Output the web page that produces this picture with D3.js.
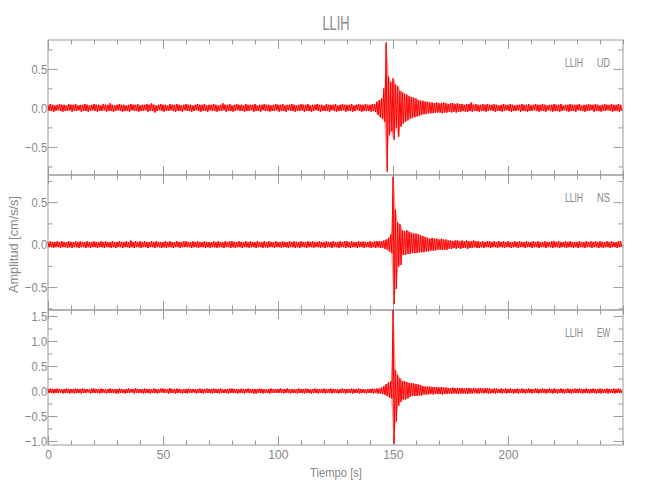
<!DOCTYPE html>
<html><head><meta charset="utf-8">
<script src="https://cdn.jsdelivr.net/npm/d3@7/dist/d3.min.js"></script>
<style>body{margin:0;background:#fff}svg{display:block}</style>
</head><body><svg id="c" width="650" height="500"></svg>
<script>
// ---------------- data ----------------
const station = "LLIH";
const components = ["UD", "NS", "EW"];
const binSeconds = 1;             // one envelope bin per second, t = 0..249 s
const timeDomain = [0, 250];
const xTickValues = [0, 50, 100, 150, 200];
// per-second envelope of each trace, in hundredths of cm/s/s (max then min in each bin)
const udHi = [
4,5,4,3,4,5,4,4,3,5, 4,4,5,3,4,4,5,4,3,4, 5,4,4,3,5,4,4,6,4,3, 4,5,4,4,3,4,5,4,4,5,
3,4,4,5,4,6,4,3,4,5, 4,4,3,5,4,4,5,4,3,4, 5,4,4,3,4,5,4,4,5,3, 4,4,5,4,3,4,6,4,4,5,
3,4,5,4,4,3,5,4,4,4, 5,3,4,4,5,4,4,3,4,5, 4,4,5,3,4,4,5,4,3,4, 5,4,4,5,3,4,4,5,4,4,
3,5,4,4,4,5,3,4,5,4, 4,4,5,3,4,5,4,4,5,4, 4,5,5,8,10,12,25,84,40,33, 38,30,28,22,20,18,17,15,14,13,
12,10,9,9,8,8,7,7,6,7, 6,6,7,6,5,6,6,5,6,5, 5,4,5,5,7,4,5,4,4,5, 4,5,4,4,5,4,3,4,5,4,
4,5,4,3,4,4,5,4,4,5, 3,4,5,4,4,5,4,3,4,4, 5,4,4,5,3,4,4,5,4,4, 4,5,3,4,4,5,4,4,5,4,
3,4,5,4,4,5,4,4,5,4];
const udLo = [
-4,-4,-5,-4,-3,-4,-5,-4,-4,-3, -5,-4,-4,-3,-5,-4,-4,-5,-4,-3, -4,-5,-4,-4,-3,-5,-4,-4,-5,-4, -3,-4,-5,-4,-4,-5,-3,-4,-4,-5,
-4,-4,-3,-5,-4,-4,-6,-4,-3,-4, -5,-4,-4,-3,-4,-5,-4,-4,-5,-3, -4,-4,-5,-4,-3,-4,-5,-4,-4,-5, -3,-4,-4,-5,-4,-4,-3,-5,-4,-4,
-5,-4,-3,-4,-4,-5,-4,-4,-3,-5, -4,-4,-5,-3,-4,-4,-5,-4,-4,-3, -5,-4,-4,-5,-3,-4,-4,-5,-4,-4, -3,-5,-4,-4,-5,-4,-3,-4,-5,-4,
-4,-4,-5,-3,-4,-5,-4,-4,-3,-5, -4,-4,-5,-4,-3,-4,-5,-4,-4,-4, -5,-4,-5,-9,-12,-14,-18,-82,-35,-30, -41,-25,-37,-24,-20,-18,-16,-14,-13,-12,
-11,-10,-9,-8,-8,-7,-7,-7,-6,-6, -6,-7,-6,-6,-5,-6,-5,-6,-5,-5, -4,-5,-5,-4,-5,-4,-4,-5,-4,-4, -5,-4,-3,-4,-5,-4,-4,-5,-4,-3,
-4,-5,-4,-4,-3,-5,-4,-4,-5,-4, -4,-3,-4,-5,-4,-4,-5,-3,-4,-5, -4,-4,-5,-4,-3,-4,-5,-4,-4,-5, -3,-4,-4,-5,-4,-4,-3,-5,-4,-4,
-5,-4,-4,-3,-4,-5,-4,-4,-5,-4];
const nsHi = [
3,4,3,3,4,3,4,3,3,4, 3,3,4,3,4,3,3,4,3,3, 4,3,3,4,3,4,3,3,4,3, 3,4,3,3,4,3,5,3,4,3,
4,3,4,3,3,4,3,4,3,3, 3,4,3,4,3,3,4,3,3,4, 4,3,3,4,3,4,3,3,4,3, 3,3,4,3,4,3,3,4,3,4,
4,3,3,4,3,3,4,3,4,3, 3,4,3,3,4,3,4,3,3,4, 3,3,4,3,3,4,3,4,3,3, 4,3,3,4,3,4,3,3,4,3,
3,4,3,3,4,3,3,4,3,4, 4,3,4,3,3,4,3,4,3,3, 4,3,4,4,4,4,5,6,8,12, 80,41,26,24,17,16,17,15,14,13,
13,12,11,10,9,8,7,8,7,7, 6,7,6,6,5,5,4,5,5,4, 5,4,5,4,4,5,4,4,3,4, 3,4,4,3,4,3,4,3,4,3,
4,3,3,4,3,4,3,3,4,3, 3,4,3,4,3,3,4,3,3,4, 4,3,4,3,3,4,3,4,3,3, 3,4,3,3,4,3,4,3,4,3,
4,3,3,4,3,4,3,3,4,4];
const nsLo = [
-3,-3,-4,-3,-3,-4,-3,-3,-4,-3, -4,-3,-3,-4,-3,-3,-4,-3,-4,-3, -3,-4,-3,-3,-4,-3,-3,-4,-3,-4, -3,-3,-4,-3,-3,-4,-3,-4,-3,-3,
-4,-3,-3,-4,-3,-3,-4,-3,-3,-4, -3,-4,-3,-3,-4,-3,-3,-4,-3,-3, -3,-3,-4,-3,-3,-4,-3,-3,-4,-3, -4,-3,-3,-4,-3,-3,-4,-3,-3,-4,
-3,-4,-3,-3,-4,-3,-3,-4,-3,-3, -4,-3,-3,-4,-3,-4,-3,-3,-4,-3, -3,-4,-3,-3,-4,-3,-3,-4,-3,-4, -3,-3,-4,-3,-3,-4,-3,-3,-4,-3,
-4,-3,-3,-4,-3,-3,-4,-3,-3,-4, -3,-4,-3,-3,-4,-3,-3,-4,-3,-3, -4,-3,-4,-3,-4,-4,-5,-6,-8,-10, -70,-52,-26,-24,-12,-12,-11,-11,-10,-10,
-10,-9,-9,-9,-8,-8,-7,-7,-7,-6, -6,-6,-6,-6,-5,-5,-4,-5,-4,-5, -4,-4,-5,-4,-4,-3,-4,-4,-3,-4, -3,-3,-4,-3,-3,-4,-3,-3,-4,-3,
-3,-4,-3,-3,-4,-3,-3,-4,-3,-3, -4,-3,-3,-4,-3,-3,-4,-3,-3,-4, -3,-3,-4,-3,-3,-4,-3,-3,-4,-3, -4,-3,-3,-4,-3,-3,-4,-3,-3,-4,
-3,-4,-3,-3,-4,-3,-3,-4,-3,-3];
const ewHi = [
4,5,4,4,5,4,3,4,5,4, 4,4,5,4,4,5,4,4,3,5, 5,4,4,5,4,3,4,5,4,4, 4,5,4,3,4,5,4,4,6,4,
4,4,5,4,4,3,5,4,4,5, 5,4,4,6,4,4,5,4,3,4, 4,5,4,4,3,4,5,4,4,5, 4,4,5,4,4,5,3,4,4,5,
5,4,4,3,5,4,4,5,4,4, 4,4,5,4,4,3,4,5,4,4, 4,5,4,4,5,4,4,3,4,5, 4,4,5,4,3,4,5,4,4,4,
5,4,4,5,4,4,3,4,5,4, 4,4,5,4,4,5,4,4,3,4, 4,5,4,5,5,7,10,14,17,20, 162,42,32,25,20,20,18,16,16,15,
14,13,12,10,9,9,9,8,8,8, 7,8,7,7,6,6,7,6,6,6, 6,5,6,6,5,6,5,5,6,5, 5,6,5,4,5,5,4,5,4,5,
4,5,4,4,5,4,5,4,4,5, 4,4,5,4,4,5,4,4,5,4, 5,4,4,5,4,4,5,4,4,5, 4,5,4,4,5,4,4,5,4,4,
5,4,4,5,4,4,5,4,5,4];
const ewLo = [
-4,-4,-5,-4,-4,-3,-5,-4,-4,-5, -4,-5,-4,-4,-5,-4,-4,-3,-5,-4, -4,-4,-5,-4,-4,-5,-4,-4,-4,-5, -5,-4,-4,-5,-4,-4,-3,-5,-4,-4,
-4,-5,-4,-4,-5,-4,-4,-5,-4,-3, -4,-4,-5,-4,-4,-5,-4,-4,-5,-4, -5,-4,-4,-3,-5,-4,-4,-5,-4,-4, -4,-5,-4,-4,-5,-4,-4,-4,-5,-4,
-4,-4,-5,-4,-4,-5,-3,-4,-4,-5, -5,-4,-4,-5,-4,-4,-5,-4,-4,-4, -4,-4,-5,-4,-4,-5,-4,-4,-5,-4, -4,-5,-4,-4,-5,-4,-4,-5,-4,-4,
-5,-4,-4,-5,-4,-4,-5,-4,-4,-5, -4,-4,-5,-4,-4,-5,-4,-4,-5,-4, -4,-5,-4,-5,-5,-6,-8,-10,-13,-15, -105,-61,-30,-22,-17,-17,-15,-12,-10,-10,
-10,-9,-9,-7,-7,-7,-6,-7,-6,-6, -6,-7,-6,-6,-5,-6,-5,-5,-6,-5, -5,-5,-6,-5,-5,-4,-5,-5,-4,-5, -4,-5,-5,-4,-5,-4,-4,-5,-4,-5,
-4,-4,-5,-4,-5,-4,-4,-5,-4,-4, -5,-4,-4,-5,-4,-4,-5,-4,-4,-5, -4,-5,-4,-4,-5,-4,-4,-5,-4,-4, -4,-4,-5,-4,-4,-5,-4,-4,-5,-4,
-5,-4,-4,-5,-4,-4,-5,-4,-4,-5];
const yDomains = [[-0.86, 0.87], [-0.77, 0.82], [-1.08, 1.62]];
const yTickValues = [[-0.5, 0, 0.5], [-0.5, 0, 0.5], [-1, -0.5, 0, 0.5, 1, 1.5]];
const traces = [[udHi, udLo], [nsHi, nsLo], [ewHi, ewLo]];

// ---------------- layout ----------------
const svg = d3.select("#c");
const mLeft = 48, mRight = 623, mTop = 40, panelH = 135;
const axisColor = "#9a9a9a", textColor = "#888888";
const FONT = "'Liberation Sans', Arial, sans-serif";

const x = d3.scaleLinear().domain(timeDomain).range([mLeft, mRight]);
const xMinor = d3.range(timeDomain[0], timeDomain[1] + 0.001, 10).filter(v => !xTickValues.includes(v));

function styleAxis(g, scaleX) {
  g.select(".domain").remove();
  g.selectAll("line").attr("stroke", axisColor).attr("stroke-width", 1);
  g.selectAll("text").attr("fill", textColor).attr("font-family", FONT)
    .attr("font-size", 13.5).attr("transform", `scale(${scaleX},1)`);
}

components.forEach((comp, i) => {
  const y0 = mTop + i * panelH, y1 = y0 + panelH;
  const y = d3.scaleLinear().domain(yDomains[i]).range([y1, y0]);
  const [d0, d1] = yDomains[i];
  const yMinor = d3.range(Math.ceil(d0 / 0.25) * 0.25, d1, 0.25)
    .filter(v => !yTickValues[i].some(t => Math.abs(t - v) < 1e-9));
  const g = svg.append("g");

  g.append("rect").attr("x", mLeft).attr("y", y0).attr("width", mRight - mLeft).attr("height", panelH)
    .attr("fill", "none").attr("stroke", axisColor).attr("stroke-width", 1);

  g.append("g").attr("transform", `translate(${mLeft},0)`)
    .call(d3.axisLeft(y).tickValues(yTickValues[i]).tickSizeInner(-9.5).tickSizeOuter(0).tickPadding(1).tickFormat(d3.format(".1f")))
    .call(a => styleAxis(a, 0.83));
  g.append("g").attr("transform", `translate(${mLeft},0)`)
    .call(d3.axisLeft(y).tickValues(yMinor).tickSizeInner(-4.5).tickSizeOuter(0).tickFormat(""))
    .call(a => styleAxis(a, 1));
  g.append("g").attr("transform", `translate(${mRight},0)`)
    .call(d3.axisRight(y).tickValues(yTickValues[i]).tickSizeInner(-9.5).tickSizeOuter(0).tickFormat(""))
    .call(a => styleAxis(a, 1));
  g.append("g").attr("transform", `translate(${mRight},0)`)
    .call(d3.axisRight(y).tickValues(yMinor).tickSizeInner(-4.5).tickSizeOuter(0).tickFormat(""))
    .call(a => styleAxis(a, 1));
  g.append("g").attr("transform", `translate(0,${y0})`)
    .call(d3.axisTop(x).tickValues(xTickValues).tickSizeInner(-9).tickSizeOuter(0).tickFormat(""))
    .call(a => styleAxis(a, 1));
  g.append("g").attr("transform", `translate(0,${y0})`)
    .call(d3.axisTop(x).tickValues(xMinor).tickSizeInner(-4.5).tickSizeOuter(0).tickFormat(""))
    .call(a => styleAxis(a, 1));
  const isLast = i === components.length - 1;
  g.append("g").attr("transform", `translate(0,${y1})`)
    .call(d3.axisBottom(x).tickValues(xTickValues).tickSizeInner(-9).tickSizeOuter(0).tickPadding(4)
      .tickFormat(isLast ? d3.format("d") : ""))
    .call(a => styleAxis(a, 0.9));
  g.append("g").attr("transform", `translate(0,${y1})`)
    .call(d3.axisBottom(x).tickValues(xMinor).tickSizeInner(-4.5).tickSizeOuter(0).tickFormat(""))
    .call(a => styleAxis(a, 1));

  g.append("text").attr("x", 565).attr("y", y0 + 26.5).text(station)
    .attr("fill", textColor).attr("font-family", FONT).attr("font-size", 12.5)
    .attr("textLength", 18).attr("lengthAdjust", "spacingAndGlyphs");
  g.append("text").attr("x", 597).attr("y", y0 + 26.5).text(comp)
    .attr("fill", textColor).attr("font-family", FONT).attr("font-size", 12.5)
    .attr("textLength", 13).attr("lengthAdjust", "spacingAndGlyphs");

  const [hi, lo] = traces[i];
  const bins = hi.map((h, k) => ({ t: k * binSeconds, hi: h / 100, lo: lo[k] / 100 }));
  // light envelope fill behind the trace (dense oscillation)
  svg.append("path").datum(bins)
    .attr("d", d3.area().x(d => x(d.t + binSeconds / 4)).y0(d => y(d.lo)).y1(d => y(d.hi)))
    .attr("fill", "#ff0000").attr("fill-opacity", 0.4).attr("stroke", "none");
  // trace: zig-zag through each bin's max and min
  const pts = [];
  bins.forEach(b => {
    pts.push([b.t, b.hi]);
    pts.push([b.t + binSeconds / 2, b.lo]);
  });
  svg.append("path").datum(pts)
    .attr("d", d3.line().x(d => x(d[0])).y(d => y(d[1])))
    .attr("fill", "none").attr("stroke", "#ff0000").attr("stroke-width", 1)
    .attr("stroke-linejoin", "miter");
});

svg.append("text").attr("x", 322.5).attr("y", 30).text(station)
  .attr("fill", textColor).attr("font-family", FONT).attr("font-size", 21)
  .attr("textLength", 27).attr("lengthAdjust", "spacingAndGlyphs");
svg.append("text").attr("x", 310).attr("y", 477).text("Tiempo [s]")
  .attr("fill", textColor).attr("font-family", FONT).attr("font-size", 13.5)
  .attr("textLength", 52).attr("lengthAdjust", "spacingAndGlyphs");
svg.append("text").attr("transform", "translate(18,293) rotate(-90)").text("Amplitud [cm/s/s]")
  .attr("fill", textColor).attr("font-family", FONT).attr("font-size", 13.5)
  .attr("textLength", 97).attr("lengthAdjust", "spacingAndGlyphs");
</script>
</body></html>
